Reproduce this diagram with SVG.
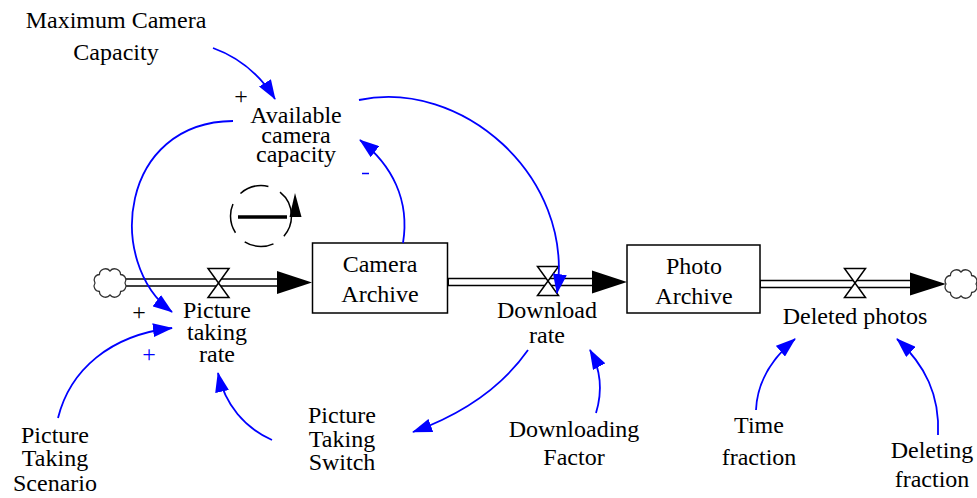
<svg xmlns="http://www.w3.org/2000/svg" width="977" height="498" viewBox="0 0 977 498">
  <style>
    .lbl { font-family: "Liberation Serif", "Times New Roman", serif; font-size: 24px; fill: #000; text-anchor: middle; }
    .sign { font-family: "Liberation Serif", "Times New Roman", serif; font-size: 24px; text-anchor: middle; }
    .stock { fill: #fff; stroke: #000; stroke-width: 1.5; }
    .pipe-out { fill: none; stroke: #000; stroke-width: 8.5; }
    .pipe-in { fill: none; stroke: #fff; stroke-width: 5.5; }
    .valve { fill: #fff; stroke: #000; stroke-width: 1.5; stroke-linejoin: miter; }
    .cloud { fill: #fff; stroke: #333; stroke-width: 1.3; }
    .link { fill: none; stroke: #0000ff; stroke-width: 1.8; marker-end: url(#ah); }
  </style>
  <defs>
    <marker id="ah" viewBox="0 0 20 14" refX="19" refY="7" markerWidth="20" markerHeight="14" markerUnits="userSpaceOnUse" orient="auto">
      <path d="M0,0 L20,7 L0,14 z" fill="#0000ff"/>
    </marker>
    <path id="cloud" class="cloud" d="M15,0 A5.5,5.5 0 0 0 10.6,-8.5 A6,6 0 0 0 0,-12 A6,6 0 0 0 -10.6,-8.5 A5.5,5.5 0 0 0 -15,0 A5.5,5.5 0 0 0 -10.6,8.5 A6,6 0 0 0 0,12 A6,6 0 0 0 10.6,8.5 A5.5,5.5 0 0 0 15,0 Z"/>
    <path id="valve" class="valve" d="M-10.5,-14.5 L10.5,-14.5 L-10.5,14.5 L10.5,14.5 Z"/>
  </defs>

  <!-- flows: double pipes, valves, clouds -->
  <g id="flows">
    <g id="flow-picture-taking">
      <line class="pipe-out" x1="126" y1="282.5" x2="282" y2="282.5"/>
      <line class="pipe-in" x1="124" y1="282.5" x2="284" y2="282.5"/>
      <polygon points="277,271 312,282.5 277,294" fill="#000"/>
      <use href="#cloud" x="110" y="283"/>
      <use href="#valve" x="218.5" y="283"/>
    </g>
    <g id="flow-download">
      <line class="pipe-out" x1="448" y1="282" x2="596" y2="282"/>
      <line class="pipe-in" x1="449" y1="282" x2="598" y2="282"/>
      <polygon points="592,270.5 627,282 592,293.5" fill="#000"/>
      <use href="#valve" x="548" y="281"/>
    </g>
    <g id="flow-deleted">
      <line class="pipe-out" x1="760" y1="284" x2="914" y2="284"/>
      <line class="pipe-in" x1="761" y1="284" x2="916" y2="284"/>
      <polygon points="910,272.5 946,284 910,295.5" fill="#000"/>
      <use href="#cloud" x="961" y="284"/>
      <use href="#valve" x="855" y="283"/>
    </g>
  </g>

  <!-- stocks -->
  <g id="camera-archive">
    <rect class="stock" x="312.5" y="243" width="135" height="70"/>
    <text class="lbl" x="380" y="272">Camera</text>
    <text class="lbl" x="380" y="302">Archive</text>
  </g>
  <g id="photo-archive">
    <rect class="stock" x="627" y="245" width="133" height="68"/>
    <text class="lbl" x="694" y="274">Photo</text>
    <text class="lbl" x="694" y="304">Archive</text>
  </g>

  <!-- variables -->
  <g id="maximum-camera-capacity">
    <text class="lbl" x="116" y="28">Maximum Camera</text>
    <text class="lbl" x="116" y="60">Capacity</text>
  </g>
  <g id="available-camera-capacity">
    <text class="lbl" x="296" y="123">Available</text>
    <text class="lbl" x="296" y="143">camera</text>
    <text class="lbl" x="296" y="162">capacity</text>
  </g>
  <g id="picture-taking-rate">
    <text class="lbl" x="217" y="318">Picture</text>
    <text class="lbl" x="217" y="340">taking</text>
    <text class="lbl" x="217" y="362">rate</text>
  </g>
  <g id="download-rate">
    <text class="lbl" x="547" y="318">Download</text>
    <text class="lbl" x="547" y="343">rate</text>
  </g>
  <g id="deleted-photos">
    <text class="lbl" x="855" y="324">Deleted photos</text>
  </g>
  <g id="picture-taking-scenario">
    <text class="lbl" x="55" y="443">Picture</text>
    <text class="lbl" x="55" y="466">Taking</text>
    <text class="lbl" x="55" y="491">Scenario</text>
  </g>
  <g id="picture-taking-switch">
    <text class="lbl" x="342" y="423">Picture</text>
    <text class="lbl" x="342" y="447">Taking</text>
    <text class="lbl" x="342" y="470">Switch</text>
  </g>
  <g id="downloading-factor">
    <text class="lbl" x="574" y="437">Downloading</text>
    <text class="lbl" x="574" y="465">Factor</text>
  </g>
  <g id="time-fraction">
    <text class="lbl" x="759" y="433">Time</text>
    <text class="lbl" x="759" y="465">fraction</text>
  </g>
  <g id="deleting-fraction">
    <text class="lbl" x="932" y="458">Deleting</text>
    <text class="lbl" x="932" y="487">fraction</text>
  </g>

  <!-- balancing loop marker -->
  <g id="loop-b">
    <circle cx="261" cy="216" r="30.5" fill="none" stroke="#000" stroke-width="1.5" stroke-dasharray="30 13" stroke-dashoffset="8"/>
    <line x1="238" y1="217" x2="287" y2="217" stroke="#000" stroke-width="3.5"/>
    <polygon points="295,193 289.5,217 301.5,217" fill="#000"/>
  </g>

  <!-- causal links -->
  <g id="links">
    <path class="link" d="M213,48 Q252,62 275,99"/>
    <path class="link" d="M233,121 C120,122 105,262 172,312"/>
    <path class="link" d="M403,243 C410,200 392,165 360,140"/>
    <path class="link" d="M359,100 C460,78 575,175 557,293"/>
    <path class="link" d="M58,418 C70,370 110,335 172,328"/>
    <path class="link" d="M272,440 C245,428 225,405 218,373"/>
    <path class="link" d="M528,350 C500,390 460,415 413,432"/>
    <path class="link" d="M596,413 C603,390 601,370 590,350"/>
    <path class="link" d="M756,410 C757,385 770,360 795,339"/>
    <path class="link" d="M938,435 C940,395 925,365 897,339"/>
  </g>

  <!-- link polarities -->
  <g id="polarities">
    <text class="sign" x="241" y="104" fill="#000">+</text>
    <text class="sign" x="139" y="320" fill="#000">+</text>
    <text class="sign" x="149" y="362" fill="#0000ff">+</text>
    <line x1="362" y1="173.5" x2="369" y2="173.5" stroke="#0000ff" stroke-width="1.5"/>
  </g>
</svg>
